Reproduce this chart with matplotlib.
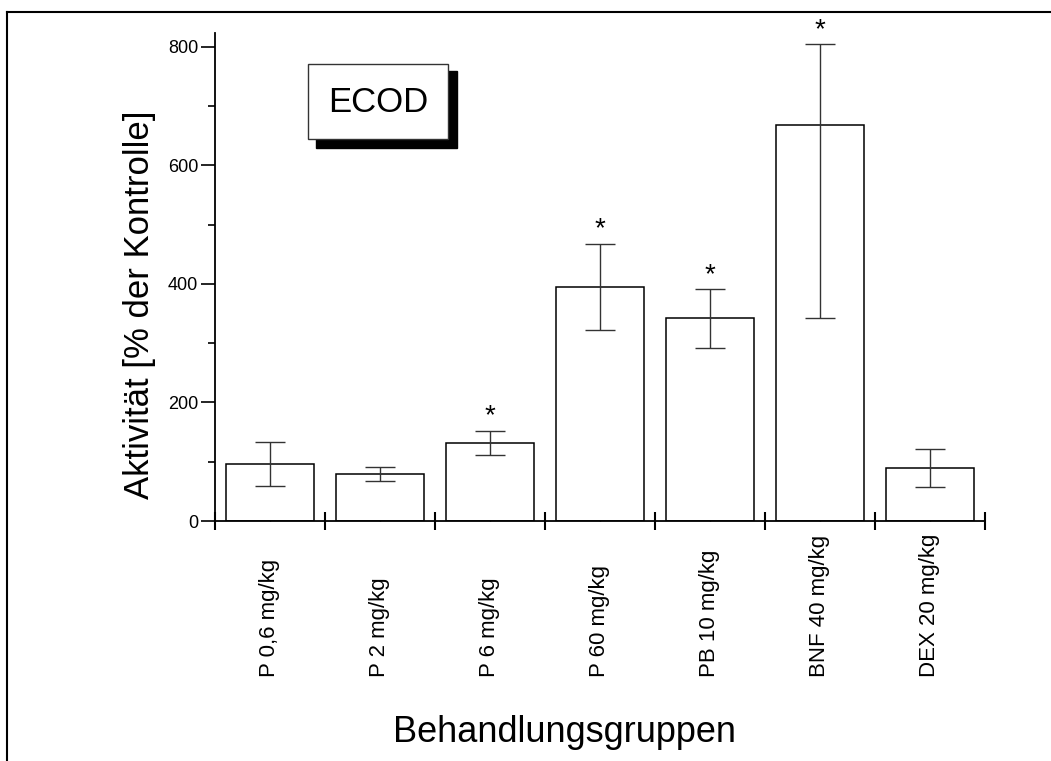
import numpy as np
import matplotlib.pyplot as plt
from matplotlib.patches import Rectangle
from matplotlib.lines import Line2D

plt.rcParams['font.family'] = ['Liberation Sans', 'DejaVu Sans']

# daten
gruppen = ['P 0,6 mg/kg', 'P 2 mg/kg', 'P 6 mg/kg', 'P 60 mg/kg',
           'PB 10 mg/kg', 'BNF 40 mg/kg', 'DEX 20 mg/kg']
mittel = [96, 79, 132, 395, 342, 668, 90]
fehler_unten = [37, 12, 21, 73, 50, 326, 33]
fehler_oben = [37, 12, 20, 72, 49, 136, 31]
signifikant = [False, False, True, True, True, True, False]

W, H = 1051, 761
fig = plt.figure(figsize=(W / 100, H / 100), dpi=100)

def fx(px):
    return px / W

def fy(py):
    return 1 - py / H

ax = fig.add_axes([fx(215), fy(521), fx(985) - fx(215), fy(33) - fy(521)])

x = np.arange(len(gruppen))
ax.bar(x, mittel, width=0.8, color='white', edgecolor='black', linewidth=1.1, zorder=2)
ax.errorbar(x, mittel, yerr=[fehler_unten, fehler_oben], fmt='none', ecolor='#333333',
            elinewidth=1.0, capsize=11, capthick=1.0, zorder=3)

for xi, m, fo, s in zip(x, mittel, fehler_oben, signifikant):
    if s:
        ax.annotate('*', (xi, m + fo), xytext=(0, 1), textcoords='offset points',
                    ha='center', va='bottom', fontsize=20)

ax.set_xlim(-0.5, len(gruppen) - 0.5)
ax.set_ylim(0, 823)

for sp in ['top', 'right']:
    ax.spines[sp].set_visible(False)
ax.spines['left'].set_linewidth(1.3)
ax.spines['bottom'].set_linewidth(1.3)

ax.set_yticks([0, 200, 400, 600, 800])
ax.set_yticks([100, 300, 500, 700], minor=True)
ax.tick_params(axis='y', which='major', direction='out', length=10, width=1.2,
               labelsize=13, pad=2)
ax.tick_params(axis='y', which='minor', direction='out', length=5, width=1.2)

ax.set_xticks(np.arange(len(gruppen) + 1) - 0.5)
ax.set_xticks(x, minor=True)
ax.set_xticklabels([])
ax.tick_params(axis='x', which='major', direction='inout', length=13, width=1.5)
ax.tick_params(axis='x', which='minor', direction='in', length=2, width=1)

for xi, g in zip(x, gruppen):
    ax.text(xi, -156 / 488, g, transform=ax.get_xaxis_transform(), rotation=90,
            ha='center', va='bottom', fontsize=16)

fig.text(fx(140), fy(305), 'Aktivität [% der Kontrolle]', rotation=90,
         ha='center', va='center', fontsize=25)
fig.text(fx(565), fy(733), 'Behandlungsgruppen', ha='center', va='center', fontsize=26)

# ECOD kasten mit schatten
fig.add_artist(Rectangle((fx(316), fy(148)), fx(457) - fx(316), fy(71) - fy(148),
                         transform=fig.transFigure, facecolor='black', edgecolor='black'))
fig.add_artist(Rectangle((fx(308), fy(139)), fx(448) - fx(308), fy(64) - fy(139),
                         transform=fig.transFigure, facecolor='white', edgecolor='#333333',
                         linewidth=1.0))
fig.text(fx(378), fy(102), 'ECOD', ha='center', va='center', fontsize=25)

# rahmen
fig.add_artist(Line2D([fx(7), fx(7)], [fy(12), 0], transform=fig.transFigure,
                      color='black', linewidth=1.5))
fig.add_artist(Line2D([fx(7), 1], [fy(12), fy(12)], transform=fig.transFigure,
                      color='black', linewidth=1.5))

fig.savefig('out.png', dpi=100)
